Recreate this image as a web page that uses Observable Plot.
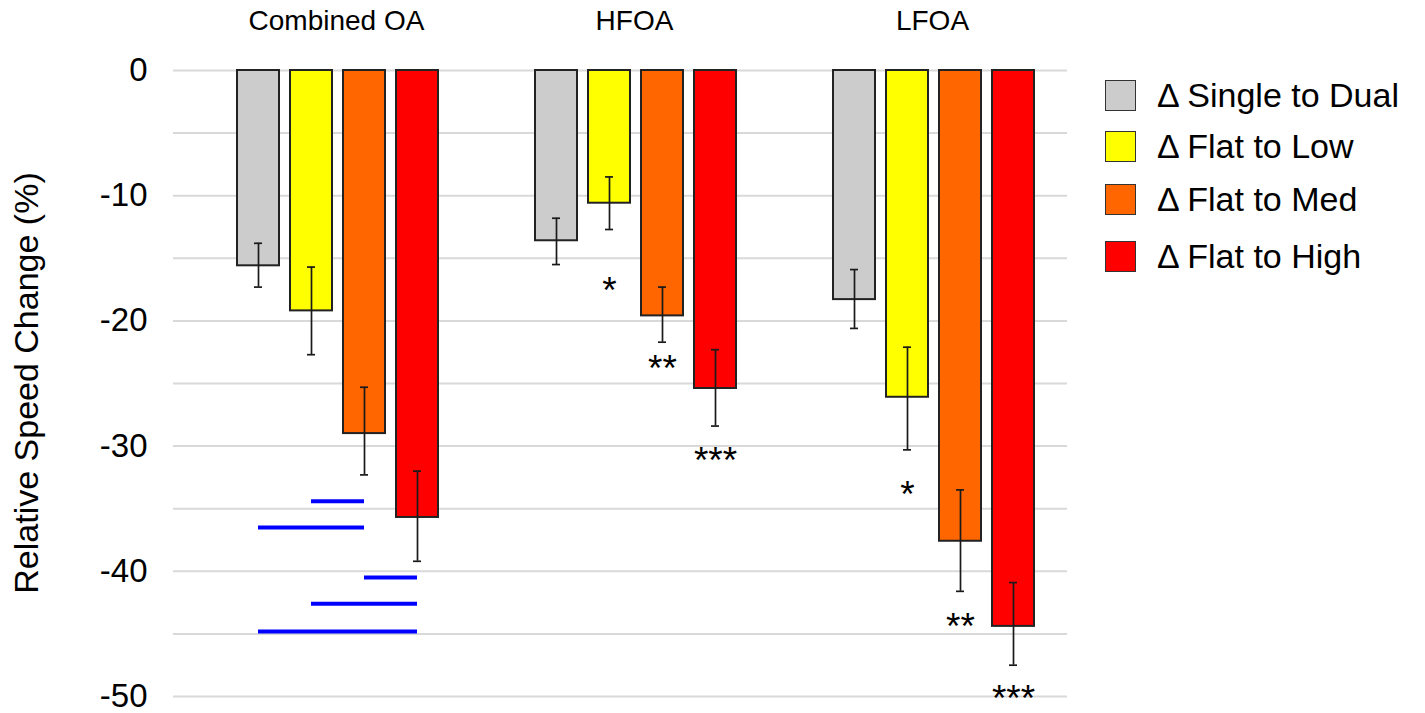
<!DOCTYPE html>
<html>
<head>
<meta charset="utf-8">
<script src="https://cdn.jsdelivr.net/npm/d3@7"></script>
<script src="https://cdn.jsdelivr.net/npm/@observablehq/plot@0.6"></script>
<style>
  html, body { margin: 0; padding: 0; background: #fff; }
  #wrap { position: relative; width: 1425px; height: 713px; font-family: "Liberation Sans", Arial, sans-serif; color: #000; }
  #ytitle { position: absolute; left: 26px; top: 383px; transform: translate(-50%, -50%) rotate(-90deg); white-space: nowrap; font-size: 34px; }
  .lg-row { position: absolute; left: 1105px; height: 32px; display: flex; align-items: center; font-size: 34px; white-space: nowrap; transform: translateY(-50%); }
  .lg-sw { width: 29px; height: 29px; border: 1.5px solid #333; margin-right: 21px; box-sizing: content-box; }
</style>
</head>
<body>
<div id="wrap"></div>
<script>
// ---- data ----
const groups = ["Combined OA", "HFOA", "LFOA"];
const series = ["Δ Single to Dual", "Δ Flat to Low", "Δ Flat to Med", "Δ Flat to High"];
const seriesColors = ["#cccccc", "#ffff00", "#ff6600", "#ff0000"];

// mean relative speed change (%) per group, in series order
const combinedMean = [-15.6, -19.2, -29.0, -35.7];
const hfoaMean     = [-13.6, -10.6, -19.6, -25.4];
const lfoaMean     = [-18.3, -26.1, -37.6, -44.4];
// error bar ends (upper / lower)
const combinedErrHi = [-13.8, -15.7, -25.3, -32.0];
const combinedErrLo = [-17.3, -22.7, -32.3, -39.2];
const hfoaErrHi     = [-11.8, -8.5, -17.3, -22.3];
const hfoaErrLo     = [-15.5, -12.7, -21.7, -28.4];
const lfoaErrHi     = [-15.9, -22.1, -33.5, -40.9];
const lfoaErrLo     = [-20.6, -30.3, -41.6, -47.5];

// significance stars
const starGroup  = ["HFOA", "HFOA", "HFOA", "LFOA", "LFOA", "LFOA"];
const starSeries = ["Δ Flat to Low", "Δ Flat to Med", "Δ Flat to High", "Δ Flat to Low", "Δ Flat to Med", "Δ Flat to High"];
const starValue  = [-17.0, -23.2, -30.6, -33.3, -43.8, -49.6];
const starText   = ["*", "**", "***", "*", "**", "***"];

// pairwise comparison bars (Combined OA)
const bracketFrom  = ["Δ Flat to Low", "Δ Single to Dual", "Δ Flat to Med", "Δ Flat to Low", "Δ Single to Dual"];
const bracketTo    = ["Δ Flat to Med", "Δ Flat to Med", "Δ Flat to High", "Δ Flat to High", "Δ Flat to High"];
const bracketValue = [-34.4, -36.5, -40.5, -42.6, -44.8];

const gridValues = [0, -5, -10, -15, -20, -25, -30, -35, -40, -45, -50];
const yTicks = [0, -10, -20, -30, -40, -50];
const yTickLabels = ["0", "-10", "-20", "-30", "-40", "-50"];
const yTitle = "Relative Speed Change (%)";

// ---- tables ----
const means = [combinedMean, hfoaMean, lfoaMean];
const errHi = [combinedErrHi, hfoaErrHi, lfoaErrHi];
const errLo = [combinedErrLo, hfoaErrLo, lfoaErrLo];
const bars = [];
groups.forEach((g, gi) => series.forEach((s, si) => {
  bars.push({group: g, series: s, value: means[gi][si], hi: errHi[gi][si], lo: errLo[gi][si]});
}));
const stars = starGroup.map((g, i) => ({group: g, series: starSeries[i], value: starValue[i], text: starText[i]}));
const brackets = bracketFrom.map((f, i) => ({group: "Combined OA", from: f, to: bracketTo[i], value: bracketValue[i]}));

const plot = Plot.plot({
  width: 1425,
  height: 713,
  marginLeft: 173,
  marginRight: 358,
  marginTop: 70,
  marginBottom: 17,
  style: {fontFamily: "'Liberation Sans', Arial, sans-serif", color: "#000", background: "#fff"},
  fx: {domain: groups, padding: 0},
  x: {domain: series, paddingInner: 0.206, paddingOuter: 0.888, align: 0.66, axis: null},
  y: {domain: [-50, 0]},
  color: {domain: series, range: seriesColors},
  marks: [
    Plot.ruleY(gridValues, {y: d => d, stroke: "#d9d9d9", strokeWidth: 2}),
    Plot.axisY({ticks: yTicks, tickFormat: d => yTickLabels[yTicks.indexOf(d)], tickSize: 0, tickPadding: 26, fontSize: 33, label: null}),
    Plot.axisFx({anchor: "top", tickSize: 0, tickPadding: 41, fontSize: 28, dx: 14, label: null}),
    Plot.barY(bars, {fx: "group", x: "series", y: "value", fill: "series", stroke: "#222", strokeWidth: 2}),
    Plot.ruleX(bars, {fx: "group", x: "series", y1: "hi", y2: "lo", stroke: "#1a1a1a", strokeWidth: 1.7}),
    Plot.tickY(bars, {fx: "group", x: "series", y: "hi", stroke: "#1a1a1a", strokeWidth: 1.7, insetLeft: 17, insetRight: 17}),
    Plot.tickY(bars, {fx: "group", x: "series", y: "lo", stroke: "#1a1a1a", strokeWidth: 1.7, insetLeft: 17, insetRight: 17}),
    Plot.ruleY(brackets, {fx: "group", x1: "from", x2: "to", y: "value", stroke: "#0000ff", strokeWidth: 4, insetLeft: 21, insetRight: 21}),
    Plot.text(stars, {fx: "group", x: "series", y: "value", text: "text", fontSize: 37, dy: 8, fill: "#000"})
  ]
});

const wrap = document.getElementById("wrap");
plot.style.position = "absolute";
plot.style.left = "0px";
plot.style.top = "0px";
wrap.appendChild(plot);

const yt = document.createElement("div");
yt.id = "ytitle";
yt.textContent = yTitle;
wrap.appendChild(yt);

const legendY = [95, 146, 199, 256];
series.forEach((s, i) => {
  const row = document.createElement("div");
  row.className = "lg-row";
  row.style.top = legendY[i] + "px";
  const sw = document.createElement("div");
  sw.className = "lg-sw";
  sw.style.background = seriesColors[i];
  const tx = document.createElement("span");
  tx.textContent = s;
  row.appendChild(sw);
  row.appendChild(tx);
  wrap.appendChild(row);
});
</script>
</body>
</html>
